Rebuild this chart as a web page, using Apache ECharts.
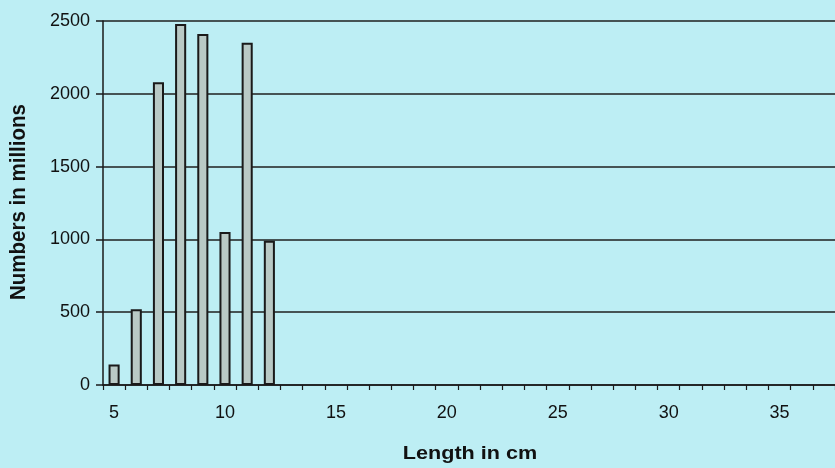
<!DOCTYPE html>
<html>
<head>
<meta charset="utf-8">
<script src="https://cdn.jsdelivr.net/npm/echarts@6/dist/echarts.min.js"></script>
<style>
  html, body { margin: 0; padding: 0; background: #bdeef4; }
  #chart { width: 835px; height: 468px; }
</style>
</head>
<body>
<div id="chart"></div>
<script>
// Length classes (cm) along the x axis
const lengths = [];
for (let l = 5; l <= 37; l++) lengths.push(String(l));

// Numbers (millions) per length class; classes above 12 cm are empty
const numbers = [140, 520, 2080, 2480, 2410, 1050, 2350, 990];

const yTicks = [0, 500, 1000, 1500, 2000, 2500];
const xTitle = 'Length in cm';
const yTitle = 'Numbers in millions';

const FONT = 'Liberation Sans, Arial, sans-serif';

const chart = echarts.init(document.getElementById('chart'));
chart.setOption({
  backgroundColor: '#bdeef4',
  animation: false,
  grid: { left: 103, right: -10, top: 21, bottom: 83 },
  xAxis: {
    type: 'category',
    data: lengths,
    boundaryGap: true,
    axisLine: { lineStyle: { color: '#1a1a1a', width: 1.5 } },
    axisTick: { show: true, length: 5, lineStyle: { color: '#1a1a1a', width: 1.2 } },
    axisLabel: {
      margin: 19,
      fontFamily: FONT,
      fontSize: 18,
      color: '#111',
      interval: 0,
      formatter: v => (Number(v) % 5 === 0 ? v : '')
    },
    splitLine: { show: false }
  },
  yAxis: {
    type: 'value',
    min: yTicks[0],
    max: yTicks[yTicks.length - 1],
    interval: 500,
    axisLine: { show: true, lineStyle: { color: '#1a1a1a', width: 1.5 } },
    axisTick: { show: true, inside: false, length: 7, lineStyle: { color: '#1a1a1a', width: 1.5 } },
    axisLabel: {
      margin: 13,
      fontFamily: FONT,
      fontSize: 18,
      color: '#111',
      formatter: v => String(v)
    },
    splitLine: { show: true, lineStyle: { color: '#1f1f1f', width: 1.6 } }
  },
  series: [{
    type: 'bar',
    data: numbers,
    barWidth: '50%',
    itemStyle: { color: '#b9c9c5', borderColor: '#1a1a1a', borderWidth: 2 }
  }],
  graphic: [
    {
      type: 'text',
      x: 470, y: 454,
      scaleX: 1.2,
      style: {
        text: xTitle,
        fontFamily: FONT,
        fontSize: 18, fontWeight: 'bold', fill: '#111',
        align: 'center', verticalAlign: 'middle'
      }
    },
    {
      type: 'text',
      x: 19, y: 202,
      rotation: Math.PI / 2,
      scaleY: 1.1,
      style: {
        text: yTitle,
        fontFamily: FONT,
        fontSize: 20.5, fontWeight: 'bold', fill: '#111',
        align: 'center', verticalAlign: 'middle'
      }
    }
  ]
});
</script>
</body>
</html>
